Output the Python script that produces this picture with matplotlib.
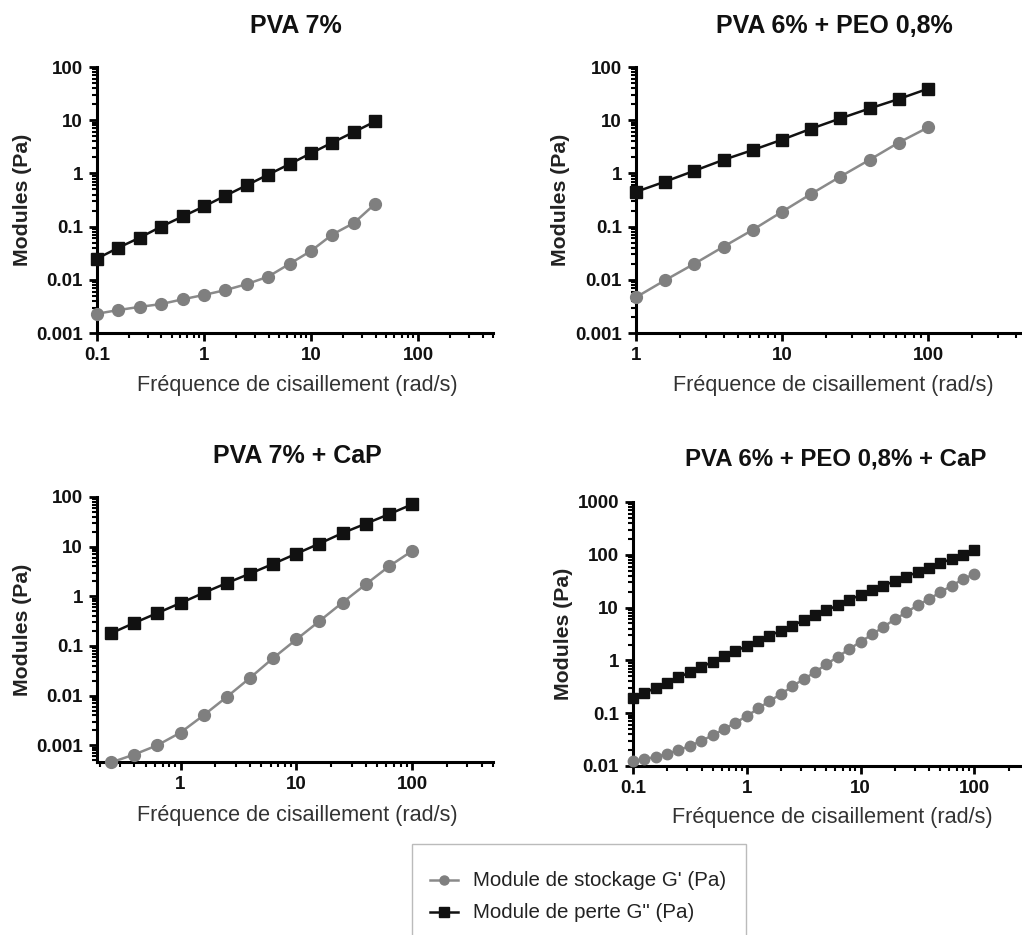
import numpy as np
import matplotlib
matplotlib.use('Agg')
import matplotlib.pyplot as plt
from matplotlib.ticker import LogLocator, FuncFormatter, NullFormatter
from matplotlib.lines import Line2D
from matplotlib.patches import Rectangle

plt.rcParams['font.family'] = 'Liberation Sans'

# ---- data ----
# PVA 7%
x1 = [0.1, 0.158, 0.251, 0.398, 0.631, 1, 1.58, 2.51, 3.98, 6.31, 10, 15.8, 25.1, 39.8]
g2_1 = [0.025, 0.04, 0.062, 0.1, 0.155, 0.24, 0.38, 0.6, 0.95, 1.5, 2.4, 3.8, 6.0, 9.5]
g1_1 = [0.0023, 0.0027, 0.0031, 0.0035, 0.0043, 0.0052, 0.0064, 0.0083, 0.0115, 0.02,
        0.035, 0.071, 0.117, 0.27]

# PVA 6% + PEO 0,8%
x2 = [1, 1.58, 2.51, 3.98, 6.31, 10, 15.8, 25.1, 39.8, 63.1, 100]
g2_2 = [0.45, 0.7, 1.12, 1.8, 2.75, 4.3, 6.9, 10.8, 16.6, 25, 39]
g1_2 = [0.0047, 0.0098, 0.02, 0.042, 0.087, 0.19, 0.41, 0.87, 1.8, 3.8, 7.3]

# PVA 7% + CaP
x3 = [0.251, 0.398, 0.631, 1, 1.58, 2.51, 3.98, 6.31, 10, 15.8, 25.1, 39.8, 63.1, 100]
g2_3 = [0.18, 0.29, 0.46, 0.73, 1.17, 1.85, 2.86, 4.5, 7.2, 11.5, 18.8, 29, 45, 71]
g1_3 = [0.00045, 0.00065, 0.001, 0.0018, 0.004, 0.0094, 0.0227, 0.057, 0.135, 0.315,
        0.75, 1.74, 4.0, 8.2]

# PVA 6% + PEO 0,8% + CaP
x4 = [0.1, 0.126, 0.158, 0.2, 0.251, 0.316, 0.398, 0.501, 0.631, 0.794,
      1, 1.26, 1.58, 2, 2.51, 3.16, 3.98, 5.01, 6.31, 7.94,
      10, 12.6, 15.8, 20, 25.1, 31.6, 39.8, 50.1, 63.1, 79.4, 100]
g2_4 = [0.19, 0.243, 0.30, 0.377, 0.475, 0.6, 0.747, 0.944, 1.19, 1.5,
        1.87, 2.33, 2.94, 3.66, 4.55, 5.75, 7.15, 8.9, 11.1, 14,
        17.4, 21.4, 26.2, 31.6, 38.8, 46.8, 56.6, 69.2, 84, 101, 123]
g1_4 = [0.0124, 0.0136, 0.0148, 0.0171, 0.0199, 0.024, 0.03, 0.038, 0.05, 0.066,
        0.088, 0.123, 0.17, 0.23, 0.325, 0.44, 0.6, 0.85, 1.17, 1.64,
        2.25, 3.1, 4.3, 6, 8.1, 11, 14.5, 19.5, 26, 34.5, 43.6]

titles = ['PVA 7%', 'PVA 6% + PEO 0,8%', 'PVA 7% + CaP', 'PVA 6% + PEO 0,8% + CaP']
labels = ["Module de stockage G' (Pa)", 'Module de perte G" (Pa)']

W, H = 1022, 935
fig = plt.figure(figsize=(W / 100, H / 100), dpi=100)


def add_ax(left, right, top, bottom):
    return fig.add_axes([left / W, 1 - bottom / H, (right - left) / W, (bottom - top) / H])


panels = [
    dict(box=(97, 493, 67, 333), x=x1, g1=g1_1, g2=g2_1, xlim=(0.1, 500), ylim=(0.001, 100),
         ms=8.5, title_xy=(296, 26), tsize=18, xlab_xy=(297, 385), ylab_x=32),
    dict(box=(636, 1030, 67, 333), x=x2, g1=g1_2, g2=g2_2, xlim=(1, 500), ylim=(0.001, 100),
         ms=8.5, title_xy=(834, 26), tsize=18, xlab_xy=(833, 385), ylab_x=570),
    dict(box=(97, 493, 497, 762), x=x3, g1=g1_3, g2=g2_3, xlim=(0.19, 500), ylim=(0.00046, 100),
         ms=8.5, title_xy=(297, 456), tsize=18, xlab_xy=(297, 815), ylab_x=32),
    dict(box=(633, 1054, 502, 766), x=x4, g1=g1_4, g2=g2_4, xlim=(0.1, 500), ylim=(0.01, 1000),
         ms=7.5, title_xy=(836, 459), tsize=17.3, xlab_xy=(832, 818), ylab_x=573),
]

fmt = FuncFormatter(lambda v, p: '%g' % v)

for i, p in enumerate(panels):
    ax = add_ax(*p['box'])
    ax.set_xscale('log')
    ax.set_yscale('log')
    ax.plot(p['x'], p['g2'], color='#111111', lw=1.8, marker='s', ms=p['ms'], clip_on=False, zorder=3)
    ax.plot(p['x'], p['g1'], color='#8a8a8a', lw=1.8, marker='o', ms=p['ms'],
            mfc='#7f7f7f', mec='#7f7f7f', clip_on=False, zorder=3)
    ax.set_xlim(*p['xlim'])
    ax.set_ylim(*p['ylim'])
    for s in ['top', 'right']:
        ax.spines[s].set_visible(False)
    for s in ['left', 'bottom']:
        ax.spines[s].set_linewidth(2.2)
    ax.xaxis.set_major_locator(LogLocator(base=10, numticks=10))
    ax.yaxis.set_major_locator(LogLocator(base=10, numticks=10))
    ax.xaxis.set_minor_locator(LogLocator(base=10, subs=np.arange(2, 10), numticks=20))
    ax.yaxis.set_minor_locator(LogLocator(base=10, subs=np.arange(2, 10), numticks=20))
    ax.xaxis.set_major_formatter(fmt)
    ax.yaxis.set_major_formatter(fmt)
    ax.xaxis.set_minor_formatter(NullFormatter())
    ax.yaxis.set_minor_formatter(NullFormatter())
    ax.tick_params(which='major', direction='out', length=6, width=2, labelsize=13.5, pad=4,
                   labelcolor='#111111')
    ax.tick_params(which='minor', direction='out', length=3.5, width=1.5)
    for lab in ax.get_xticklabels() + ax.get_yticklabels():
        lab.set_fontweight('bold')
    ax.set_ylabel('Modules (Pa)', fontsize=15.3, fontweight='bold', color='#222222')
    ax.yaxis.set_label_coords((p['ylab_x'] - p['box'][0]) / (p['box'][1] - p['box'][0]), 0.5)
    fig.text(p['title_xy'][0] / W, 1 - p['title_xy'][1] / H, titles[i], ha='center', va='center',
             fontsize=p['tsize'], fontweight='bold', color='#111111')
    fig.text(p['xlab_xy'][0] / W, 1 - p['xlab_xy'][1] / H, 'Fréquence de cisaillement (rad/s)',
             ha='center', va='center', fontsize=15.6, color='#333333')

# legend box
fig.patches.append(Rectangle((412 / W, -0.01), (746 - 412) / W, (H - 844) / H + 0.01,
                             transform=fig.transFigure, fill=False, ec='#bbbbbb', lw=1))
fig.lines.append(Line2D([430 / W, 458 / W], [1 - 880 / H] * 2, transform=fig.transFigure,
                        color='#8a8a8a', lw=1.8))
fig.lines.append(Line2D([444 / W], [1 - 880 / H], transform=fig.transFigure, color='#7f7f7f',
                        marker='o', ms=6.5, lw=0))
fig.lines.append(Line2D([430 / W, 458 / W], [1 - 912 / H] * 2, transform=fig.transFigure,
                        color='#111111', lw=1.8))
fig.lines.append(Line2D([444 / W], [1 - 912 / H], transform=fig.transFigure, color='#111111',
                        marker='s', ms=6.5, lw=0))
fig.text(473 / W, 1 - 880 / H, labels[0], ha='left', va='center', fontsize=14.8, color='#222222')
fig.text(473 / W, 1 - 912 / H, labels[1], ha='left', va='center', fontsize=14.8, color='#222222')

fig.savefig('out.png', dpi=100)
